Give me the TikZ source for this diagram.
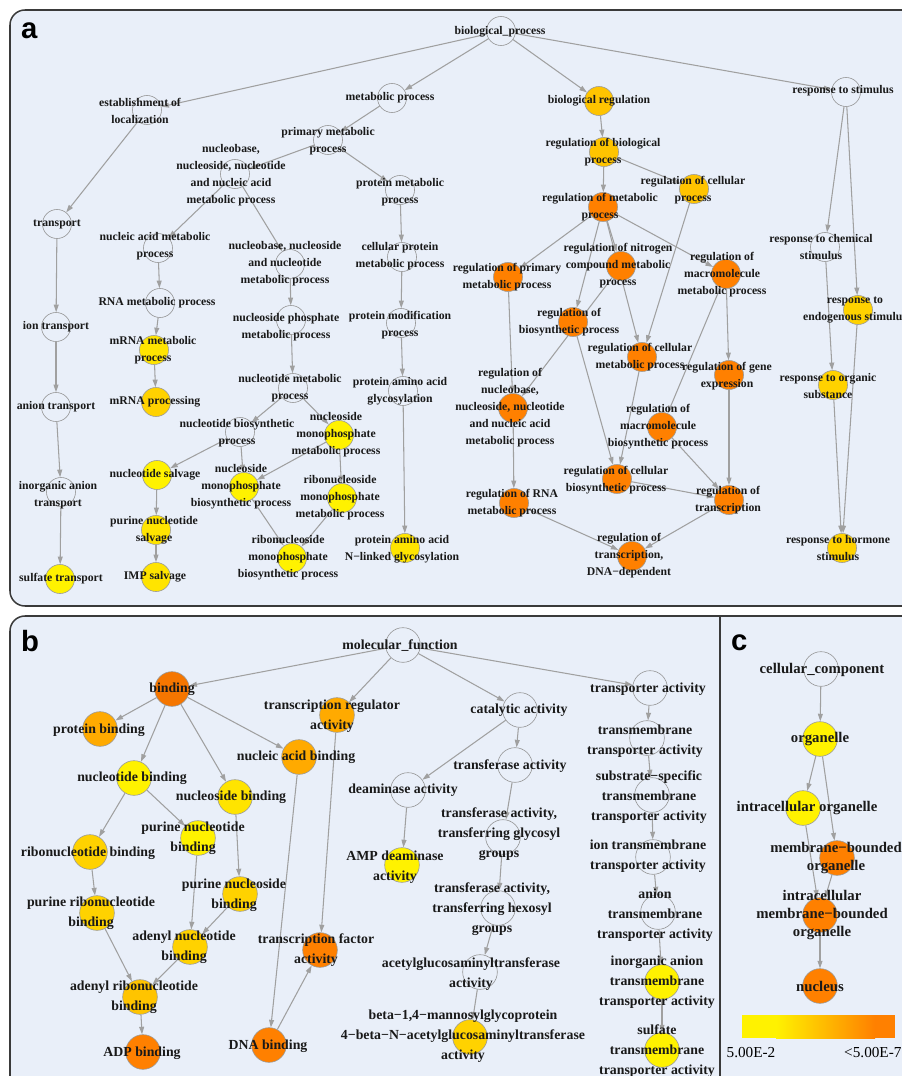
\documentclass[tikz,border=0pt]{standalone}
\usepackage{fontspec}
\setmainfont{Liberation Serif}
\setsansfont{Liberation Sans}
\usetikzlibrary{arrows.meta}
\pgfdeclarelayer{panel}
\pgfdeclarelayer{edges}
\pgfsetlayers{panel,edges,main}

\definecolor{panelbg}{HTML}{E9EFF9}
\definecolor{framegray}{HTML}{3A3A3A}
\definecolor{edgegray}{HTML}{A0A0A0}
\definecolor{goY}{HTML}{FFF200}
\definecolor{goYb}{HTML}{FFE400}
\definecolor{goG}{HTML}{FFD200}
\definecolor{goGb}{HTML}{FFC400}
\definecolor{goA}{HTML}{FFAA00}
\definecolor{goO}{HTML}{FF8000}
\definecolor{goOb}{HTML}{F57600}

\tikzset{
  term/.style={circle, draw=gray!85, line width=0.5pt, minimum size=0.87cm, inner sep=0pt},
  termB/.style={term, minimum size=1.04cm},
  hit/.style={draw=black!40},
  lblA/.style={font=\bfseries\fontsize{10}{14.5}\selectfont, align=center, inner sep=0pt, text=black!90},
  lblB/.style={font=\bfseries\fontsize{11.8}{17}\selectfont, align=center, inner sep=0pt, text=black!90},
  lblC/.style={font=\bfseries\fontsize{12.6}{15.6}\selectfont, align=center, inner sep=0pt, text=black!90},
  isa/.style={draw=edgegray, line width=0.9pt, -{Triangle[length=6.5pt,width=4.2pt]}},
  tag/.style={font=\sffamily\bfseries\fontsize{25}{25}\selectfont, anchor=base west, inner sep=0pt}
}

\begin{document}
\begin{tikzpicture}[x=0.03cm, y=-0.03cm]
    \useasboundingbox (0,0) rectangle (901,1076);

    % panels
    \begin{pgfonlayer}{panel}
    \filldraw[fill=panelbg, draw=framegray, line width=1.3pt, rounded corners=0.45cm] (10,10) rectangle (960,606);
    \filldraw[fill=panelbg, draw=framegray, line width=1.3pt, rounded corners=0.45cm] (10,616) rectangle (960,1120);
    \draw[framegray, line width=1.3pt] (720,616) -- (720,1120);
    \end{pgfonlayer}
    \node[tag] (tag-a) at (21,39) {a};
    \node[tag] (tag-b) at (21,651) {b};
    \node[tag] (tag-c) at (731,650) {c};

    % panel a: terms
    \node[term] (bp) at (501,31) {};
    \node[term] (esl) at (147,110) {};
    \node[term] (mp) at (392,98) {};
    \node[term] (pmp) at (328,140) {};
    \node[term] (nnp) at (235,174) {};
    \node[term] (prmp) at (400,190) {};
    \node[term] (tr) at (57,224) {};
    \node[term] (namp) at (158,248) {};
    \node[term] (nnnp) at (290,264) {};
    \node[term] (cpmp) at (402,257) {};
    \node[term] (rnamp) at (160,303) {};
    \node[term] (iont) at (56,327) {};
    \node[term] (npmp) at (291,320) {};
    \node[term] (pmod) at (401,323) {};
    \node[term,hit,fill=goYb] (mrmp) at (154,350) {};
    \node[term,hit,fill=goG] (mrp) at (156,402) {};
    \node[term] (aniont) at (56,407) {};
    \node[term] (ntmp) at (293,388) {};
    \node[term] (pag) at (403,391) {};
    \node[term] (ntbp) at (240,432) {};
    \node[term,hit,fill=goY] (nmmp) at (339,435) {};
    \node[term,hit,fill=goY] (nts) at (157,475) {};
    \node[term,hit,fill=goY] (nmbp) at (244,487) {};
    \node[term,hit,fill=goY] (rmmp) at (342,498) {};
    \node[term] (iat) at (61,492) {};
    \node[term,hit,fill=goYb] (pns) at (156,530) {};
    \node[term,hit,fill=goY] (rmbp) at (292,558) {};
    \node[term,hit,fill=goYb] (pang) at (405,548) {};
    \node[term,hit,fill=goY] (sult) at (60,579) {};
    \node[term,hit,fill=goYb] (imps) at (156,577) {};
    \node[term,hit,fill=goGb] (breg) at (599,101) {};
    \node[term] (rstim) at (846,92) {};
    \node[term,hit,fill=goGb] (rbp) at (604,152) {};
    \node[term,hit,fill=goGb] (rcp) at (694,189) {};
    \node[term,hit,fill=goO] (rmetp) at (603,207) {};
    \node[term,hit,fill=goO] (rncmp) at (621,266) {};
    \node[term,hit,fill=goO] (rpmp) at (508,277) {};
    \node[term,hit,fill=goO] (rmacm) at (726,274) {};
    \node[term] (rcs) at (825,247) {};
    \node[term,hit,fill=goG] (res) at (858,310) {};
    \node[term,hit,fill=goO] (rbsp) at (573,322) {};
    \node[term,hit,fill=goO] (rcmp) at (642,357) {};
    \node[term,hit,fill=goO] (rge) at (729,375) {};
    \node[term,hit,fill=goG] (ros) at (833,385) {};
    \node[term,hit,fill=goO] (rnnp) at (513,408) {};
    \node[term,hit,fill=goO] (rmacb) at (662,427) {};
    \node[term,hit,fill=goO] (rcbp) at (617,479) {};
    \node[term,hit,fill=goO] (rtr) at (729,500) {};
    \node[term,hit,fill=goO] (rrna) at (514,503) {};
    \node[term,hit,fill=goO] (rtdna) at (632,556) {};
    \node[term,hit,fill=goG] (rhs) at (842,548) {};

    % panel b: terms
    \node[termB] (mf) at (403,645) {};
    \node[termB,hit,fill=goOb] (bind) at (172,689) {};
    \node[termB,hit,fill=goA] (trra) at (337,715) {};
    \node[termB,hit,fill=goA] (prb) at (100,729) {};
    \node[termB,hit,fill=goA] (nab) at (299,757) {};
    \node[termB,hit,fill=goY] (ntb) at (134,778) {};
    \node[termB,hit,fill=goYb] (nsb) at (235,797) {};
    \node[termB,hit,fill=goY] (pntb) at (198,838) {};
    \node[termB,hit,fill=goG] (rntb) at (90,852) {};
    \node[termB,hit,fill=goG] (pnsb) at (240,894) {};
    \node[termB,hit,fill=goG] (prntb) at (97,913) {};
    \node[termB,hit,fill=goG] (anb) at (190,947) {};
    \node[termB,hit,fill=goO] (tfa) at (320,950) {};
    \node[termB,hit,fill=goGb] (arnb) at (140,997) {};
    \node[termB,hit,fill=goO] (adpb) at (143,1052) {};
    \node[termB,hit,fill=goO] (dnab) at (269,1045) {};
    \node[termB] (cat) at (520,710) {};
    \node[termB] (dea) at (408,790) {};
    \node[termB] (trf) at (515,765) {};
    \node[termB,hit,fill=goY] (ampd) at (402,865) {};
    \node[termB] (tgly) at (503,837) {};
    \node[termB] (thex) at (498,908) {};
    \node[termB] (acet) at (480,972) {};
    \node[termB,hit,fill=goG] (beta) at (470,1037) {};
    \node[termB] (tra) at (650,688) {};
    \node[termB] (tmta) at (647,738) {};
    \node[termB] (sst) at (652,795) {};
    \node[termB] (itt) at (653,857) {};
    \node[termB] (att) at (658,912) {};
    \node[termB,hit,fill=goY] (iatt) at (662,982) {};
    \node[termB,hit,fill=goY] (stt) at (662,1050) {};

    % panel c: terms
    \node[termB] (ccomp) at (821,669) {};
    \node[termB,hit,fill=goY] (org) at (820,739) {};
    \node[termB,hit,fill=goY] (ico) at (803,808) {};
    \node[termB,hit,fill=goO] (mbo) at (837,858) {};
    \node[termB,hit,fill=goO] (imbo) at (820,915) {};
    \node[termB,hit,fill=goO] (nuc) at (820,986) {};

    % edges
    \begin{pgfonlayer}{edges}
    \foreach \a/\b in {bp/esl, bp/mp, bp/breg, bp/rstim, esl/tr, mp/pmp, pmp/nnp, pmp/prmp,
        nnp/namp, nnp/nnnp, prmp/cpmp, tr/iont, namp/rnamp, nnnp/npmp, cpmp/pmod,
        rnamp/mrmp, iont/aniont, npmp/ntmp, pmod/pag, mrmp/mrp, aniont/iat, ntmp/ntbp,
        ntmp/nmmp, pag/pang, ntbp/nts, ntbp/nmbp, nmmp/nmbp, nmmp/rmmp, iat/sult,
        nts/pns, pns/imps, nmbp/rmbp, rmmp/rmbp,
        breg/rbp, rbp/rmetp, rbp/rcp, rmetp/rpmp, rmetp/rncmp, rmetp/rmacm, rmetp/rbsp,
        rmetp/rcmp, rcp/rcmp, rncmp/rnnp, rpmp/rnnp, rnnp/rrna, rbsp/rcbp, rcmp/rcbp,
        rmacm/rge, rmacm/rmacb, rmacb/rtr, rge/rtr, rcbp/rtr, rrna/rtdna, rtr/rtdna,
        rstim/rcs, rstim/res, rcs/ros, res/rhs, ros/rhs,
        mf/bind, mf/trra, mf/cat, mf/tra, bind/prb, bind/ntb, bind/nsb, bind/nab,
        trra/tfa, nab/dnab, dnab/tfa, ntb/rntb, ntb/pntb, nsb/pnsb, pntb/anb, pnsb/anb,
        rntb/prntb, prntb/arnb, anb/arnb, arnb/adpb, cat/dea, cat/trf, dea/ampd,
        trf/tgly, tgly/thex, thex/acet, acet/beta, tra/tmta, tmta/sst, sst/itt,
        itt/att, att/iatt, iatt/stt,
        ccomp/org, org/ico, org/mbo, ico/imbo, mbo/imbo, imbo/nuc}
        \draw[isa] (\a) -- (\b);
    \end{pgfonlayer}

    % panel a: labels
    \node[lblA] (bp-t) at (500,32) {biological\_process};
    \node[lblA] (esl-t) at (140,111) {establishment of\\localization};
    \node[lblA] (mp-t) at (390,98) {metabolic process};
    \node[lblA] (pmp-t) at (328,141) {primary metabolic\\process};
    \node[lblA] (nnp-t) at (231,175) {nucleobase,\\nucleoside, nucleotide\\and nucleic acid\\metabolic process};
    \node[lblA] (prmp-t) at (400,192) {protein metabolic\\process};
    \node[lblA] (tr-t) at (57,224) {transport};
    \node[lblA] (namp-t) at (155,246) {nucleic acid metabolic\\process};
    \node[lblA] (nnnp-t) at (285,264) {nucleobase, nucleoside\\and nucleotide\\metabolic process};
    \node[lblA] (cpmp-t) at (400,256) {cellular protein\\metabolic process};
    \node[lblA] (rnamp-t) at (157,303) {RNA metabolic process};
    \node[lblA] (iont-t) at (56,327) {ion transport};
    \node[lblA] (npmp-t) at (286,327) {nucleoside phosphate\\metabolic process};
    \node[lblA] (pmod-t) at (400,325) {protein modification\\process};
    \node[lblA] (mrmp-t) at (153,350) {mRNA metabolic\\process};
    \node[lblA] (mrp-t) at (155,402) {mRNA processing};
    \node[lblA] (aniont-t) at (56,407) {anion transport};
    \node[lblA] (ntmp-t) at (290,388) {nucleotide metabolic\\process};
    \node[lblA] (pag-t) at (400,391) {protein amino acid\\glycosylation};
    \node[lblA] (ntbp-t) at (237,433) {nucleotide biosynthetic\\process};
    \node[lblA] (nmmp-t) at (336,435) {nucleoside\\monophosphate\\metabolic process};
    \node[lblA] (nts-t) at (155,475) {nucleotide salvage};
    \node[lblA] (nmbp-t) at (241,487) {nucleoside\\monophosphate\\biosynthetic process};
    \node[lblA] (rmmp-t) at (340,498) {ribonucleoside\\monophosphate\\metabolic process};
    \node[lblA] (iat-t) at (58,495) {inorganic anion\\transport};
    \node[lblA] (pns-t) at (154,530) {purine nucleotide\\salvage};
    \node[lblA] (rmbp-t) at (288,558) {ribonucleoside\\monophosphate\\biosynthetic process};
    \node[lblA] (pang-t) at (402,549) {protein amino acid\\N−linked glycosylation};
    \node[lblA] (sult-t) at (61,579) {sulfate transport};
    \node[lblA] (imps-t) at (155,577) {IMP salvage};
    \node[lblA] (breg-t) at (599,101) {biological regulation};
    \node[lblA] (rstim-t) at (843,91) {response to stimulus};
    \node[lblA] (rbp-t) at (603,152) {regulation of biological\\process};
    \node[lblA] (rcp-t) at (693,190) {regulation of cellular\\process};
    \node[lblA] (rmetp-t) at (600,207) {regulation of metabolic\\process};
    \node[lblA] (rncmp-t) at (618,266) {regulation of nitrogen\\compound metabolic\\process};
    \node[lblA] (rpmp-t) at (507,277) {regulation of primary\\metabolic process};
    \node[lblA] (rmacm-t) at (722,275) {regulation of\\macromolecule\\metabolic process};
    \node[lblA] (rcs-t) at (821,247) {response to chemical\\stimulus};
    \node[lblA] (res-t) at (855,310) {response to\\endogenous stimulus};
    \node[lblA] (rbsp-t) at (569,322) {regulation of\\biosynthetic process};
    \node[lblA] (rcmp-t) at (640,357) {regulation of cellular\\metabolic process};
    \node[lblA] (rge-t) at (727,376) {regulation of gene\\expression};
    \node[lblA] (ros-t) at (828,386) {response to organic\\substance};
    \node[lblA] (rnnp-t) at (510,408) {regulation of\\nucleobase,\\nucleoside, nucleotide\\and nucleic acid\\metabolic process};
    \node[lblA] (rmacb-t) at (658,427) {regulation of\\macromolecule\\biosynthetic process};
    \node[lblA] (rcbp-t) at (616,480) {regulation of cellular\\biosynthetic process};
    \node[lblA] (rtr-t) at (728,500) {regulation of\\transcription};
    \node[lblA] (rrna-t) at (512,503) {regulation of RNA\\metabolic process};
    \node[lblA] (rtdna-t) at (629,556) {regulation of\\transcription,\\DNA−dependent};
    \node[lblA] (rhs-t) at (838,548) {response to hormone\\stimulus};

    % panel b: labels
    \node[lblB] (mf-t) at (400,646) {molecular\_function};
    \node[lblB] (bind-t) at (172,689) {binding};
    \node[lblB] (trra-t) at (332,716) {transcription regulator\\activity};
    \node[lblB] (prb-t) at (99,730) {protein binding};
    \node[lblB] (nab-t) at (296,757) {nucleic acid binding};
    \node[lblB] (ntb-t) at (132,778) {nucleotide binding};
    \node[lblB] (nsb-t) at (231,797) {nucleoside binding};
    \node[lblB] (pntb-t) at (193,838) {purine nucleotide\\binding};
    \node[lblB] (rntb-t) at (88,853) {ribonucleotide binding};
    \node[lblB] (pnsb-t) at (234,895) {purine nucleoside\\binding};
    \node[lblB] (prntb-t) at (91,913) {purine ribonucleotide\\binding};
    \node[lblB] (anb-t) at (184,947) {adenyl nucleotide\\binding};
    \node[lblB] (tfa-t) at (316,950) {transcription factor\\activity};
    \node[lblB] (arnb-t) at (134,997) {adenyl ribonucleotide\\binding};
    \node[lblB] (adpb-t) at (142,1053) {ADP binding};
    \node[lblB] (dnab-t) at (268,1046) {DNA binding};
    \node[lblB] (cat-t) at (519,710) {catalytic activity};
    \node[lblB] (dea-t) at (403,790) {deaminase activity};
    \node[lblB] (trf-t) at (510,766) {transferase activity};
    \node[lblB] (ampd-t) at (395,867) {AMP deaminase\\activity};
    \node[lblB] (tgly-t) at (499,834) {transferase activity,\\transferring glycosyl\\groups};
    \node[lblB] (thex-t) at (492,909) {transferase activity,\\transferring hexosyl\\groups};
    \node[lblB] (acet-t) at (471,974) {acetylglucosaminyltransferase\\activity};
    \node[lblB] (beta-t) at (463,1036) {beta−1,4−mannosylglycoprotein\\4−beta−N−acetylglucosaminyltransferase\\activity};
    \node[lblB] (tra-t) at (648,689) {transporter activity};
    \node[lblB] (tmta-t) at (645,741) {transmembrane\\transporter activity};
    \node[lblB] (sst-t) at (649,797) {substrate−specific\\transmembrane\\transporter activity};
    \node[lblB] (itt-t) at (648,856) {ion transmembrane\\transporter activity};
    \node[lblB] (att-t) at (655,915) {anion\\transmembrane\\transporter activity};
    \node[lblB] (iatt-t) at (657,982) {inorganic anion\\transmembrane\\transporter activity};
    \node[lblB] (stt-t) at (657,1051) {sulfate\\transmembrane\\transporter activity};

    % panel c: labels and colour scale
    \node[lblC] (ccomp-t) at (822,670) {cellular\_component};
    \node[lblC] (org-t) at (820,739) {organelle};
    \node[lblC] (ico-t) at (807,808) {intracellular organelle};
    \node[lblC] (mbo-t) at (836,858) {membrane−bounded\\organelle};
    \node[lblC] (imbo-t) at (822,915) {intracellular\\membrane−bounded\\organelle};
    \node[lblC] (nuc-t) at (820,986) {nucleus};
    \fill[goY] (742,1015) rectangle (776,1038);
    \shade[left color=goY, right color=goO] (776,1015) rectangle (875,1038);
    \fill[goO] (875,1015) rectangle (895,1038);
    \node[font=\fontsize{13}{13}\selectfont, inner sep=0pt] (scale-lo) at (751,1053) {5.00E-2};
    \node[font=\fontsize{13}{13}\selectfont, inner sep=0pt, anchor=west] (scale-hi) at (844,1053) {<5.00E-7};
\end{tikzpicture}
\end{document}
